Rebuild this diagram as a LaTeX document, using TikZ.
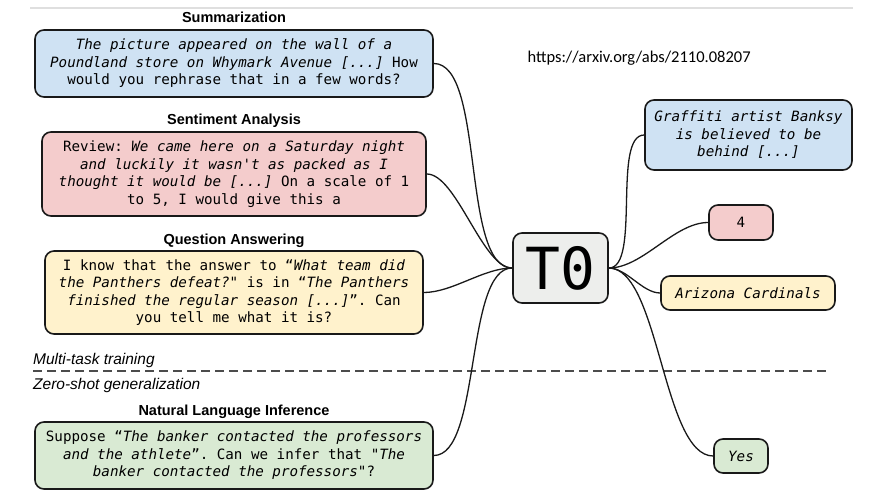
\documentclass[tikz,border=0pt]{standalone}
\usepackage{fontspec}
\setmainfont{Liberation Sans}
\setmonofont{DejaVu Sans Mono}
\newfontfamily\arxivfont{Carlito}
\usepackage{tikz}
\usetikzlibrary{positioning}
\definecolor{sumblue}{HTML}{CFE2F3}
\definecolor{sentpink}{HTML}{F4CCCC}
\definecolor{qayellow}{HTML}{FFF2CC}
\definecolor{nligreen}{HTML}{D9EAD3}
\definecolor{modelgray}{HTML}{EDEEEC}

\begin{document}
\begin{tikzpicture}[x=1pt,y=-1pt,
  task/.style={draw=black!90,line width=1.6pt,rounded corners=9pt,align=center,inner sep=0pt,
    font=\fontsize{14.2}{17.5}\selectfont\ttfamily},
  title/.style={inner sep=0pt,text depth=0pt,font=\fontsize{14.5}{17}\selectfont\bfseries},
  phase/.style={anchor=base west,inner sep=0pt,font=\fontsize{15.5}{18}\selectfont\itshape},
  link/.style={line width=1.3pt,black!90}]
\useasboundingbox (0,0) rectangle (873,497);
\draw[gray!25,line width=1.5pt] (30,8) -- (853,8);

\node[task,fill=sumblue,minimum width=398pt,minimum height=67pt] (summ) at (234,63.5)
  {\textit{The picture appeared on the wall of a}\\\textit{Poundland store on Whymark Avenue [...]} How\\would you rephrase that in a few words?};
\node[title,above=6pt of summ] (summtitle) {Summarization};

\node[task,fill=sentpink,minimum width=384pt,minimum height=84pt] (sent) at (234,174)
  {Review: \textit{We came here on a Saturday night}\\\textit{and luckily it wasn't as packed as I}\\\textit{thought it would be [...]} On a scale of 1\\to 5, I would give this a};
\node[title,above=6pt of sent] (senttitle) {Sentiment Analysis};

\node[task,fill=qayellow,minimum width=378pt,minimum height=83pt] (qa) at (234,292.5)
  {I know that the answer to “\textit{What team did}\\\textit{the Panthers defeat?}" is in “\textit{The Panthers}\\\textit{finished the regular season [...]}”. Can\\you tell me what it is?};
\node[title,above=6pt of qa] (qatitle) {Question Answering};

\node[phase] (multi) at (33,364) {Multi-task training};
\draw[black!70,line width=1.3pt,dash pattern=on 9pt off 5pt] (33,371) -- (830,371);
\node[phase] (zero) at (33,389) {Zero-shot generalization};

\node[task,fill=nligreen,minimum width=398pt,minimum height=67pt] (nli) at (234,455.5)
  {Suppose “\textit{The banker contacted the professors}\\\textit{and the athlete}”. Can we infer that "\textit{The}\\\textit{banker contacted the professors}"?};
\node[title,above=6pt of nli] (nlititle) {Natural Language Inference};

\node[anchor=west,font=\arxivfont\fontsize{16.5}{20}\selectfont] (url) at (524,58) {https://arxiv.org/abs/2110.08207};

\node[task,fill=modelgray,minimum width=95pt,minimum height=70pt,font=\fontsize{58}{58}\selectfont\ttfamily] (t0) at (560.5,268) {T0};

\node[task,fill=sumblue,minimum width=207pt,minimum height=70pt] (ans1) at (748.5,135)
  {\textit{Graffiti artist Banksy}\\\textit{is believed to be}\\\textit{behind [...]}};
\node[task,fill=sentpink,minimum width=64pt,minimum height=35pt] (ans2) at (741,222.5) {4};
\node[task,fill=qayellow,minimum width=174pt,minimum height=34pt] (ans3) at (748,293) {\textit{Arizona Cardinals}};
\node[task,fill=nligreen,minimum width=54pt,minimum height=34pt] (ans4) at (741,456) {\textit{Yes}};

\draw[link] (summ.east) to[out=0,in=180,looseness=0.6] (t0.west);
\draw[link] (sent.east) to[out=0,in=180,looseness=0.6] (t0.west);
\draw[link] (qa.east) to[out=0,in=180,looseness=0.8] (t0.west);
\draw[link] (nli.east) to[out=0,in=180,looseness=0.6] (t0.west);
\draw[link] (t0.east) to[out=0,in=180,looseness=0.6] (ans1.west);
\draw[link] (t0.east) to[out=0,in=180,looseness=0.8] (ans2.west);
\draw[link] (t0.east) to[out=0,in=180,looseness=0.8] (ans3.west);
\draw[link] (t0.east) to[out=0,in=180,looseness=0.6] (ans4.west);
\end{tikzpicture}
\end{document}
